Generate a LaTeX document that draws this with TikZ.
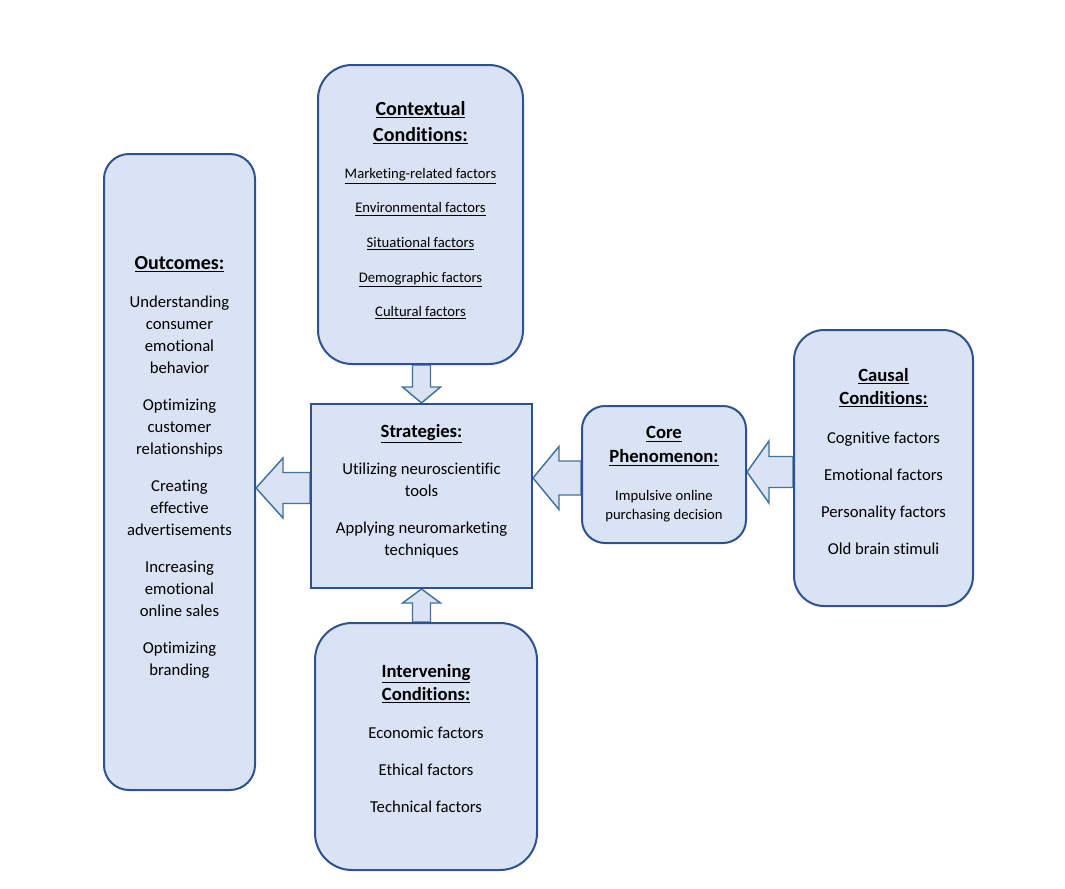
\documentclass[tikz,border=0pt]{standalone}
\usepackage{fontspec}
\setmainfont{Carlito}[Ligatures=NoCommon]
\usetikzlibrary{calc,backgrounds}

\definecolor{boxfill}{HTML}{DAE3F3}
\definecolor{boxline}{HTML}{2F528F}
\definecolor{arrowline}{HTML}{41719C}

\newcommand{\boxhead}[2][14]{{\fontsize{#1}{16.5}\selectfont\bfseries\underline{#2}}}
\newcommand{\smalltext}[1]{{\fontsize{11}{16.5}\selectfont #1}}
% extra depth below the last line, lifts the text in its box
\newcommand{\lift}[1]{\rule[-#1]{0pt}{#1}}

\begin{document}
\begin{tikzpicture}[x=0.75pt, y=-0.75pt,
  box/.style={draw=boxline, fill=boxfill, line width=1.5pt, align=center, inner sep=0pt,
    font=\fontsize{12.5}{16.5}\selectfont},
  roundbox/.style={box, rounded corners=#1},
  blockarrow/.style={draw=arrowline, fill=boxfill, line width=1.1pt}]
  \useasboundingbox (0,0) rectangle (1065,889);
  % boxes
  \node[roundbox=18.75pt, minimum width=113.25pt, minimum height=477pt] (out) at (179.5,472)
    {\boxhead[15]{Outcomes:}\\[12pt]
     Understanding\\consumer\\emotional\\behavior\\[11.25pt]
     Optimizing\\customer\\relationships\\[11.25pt]
     Creating\\effective\\advertisements\\[11.25pt]
     Increasing\\emotional\\online sales\\[11.25pt]
     Optimizing\\branding\lift{9pt}};
  \node[roundbox=25.5pt, minimum width=153.75pt, minimum height=224.25pt] (ctx) at (420.5,214.5)
    {\boxhead[15]{Contextual}\\[3pt]\boxhead[15]{Conditions:}\\[11.25pt]
     \smalltext{\underline{Marketing-related factors}}\\[9.4pt]
     \smalltext{\underline{Environmental factors}}\\[9.4pt]
     \smalltext{\underline{Situational factors}}\\[9.4pt]
     \smalltext{\underline{Demographic factors}}\\[9.4pt]
     \smalltext{\underline{Cultural factors}}\lift{8.25pt}};
  \node[box, minimum width=165.75pt, minimum height=138pt] (str) at (421.5,496)
    {\boxhead{Strategies:}\\[11.25pt]
     Utilizing neuroscientific\\tools\\[11.25pt]
     Applying neuromarketing\\techniques\lift{9pt}};
  \node[roundbox=17.25pt, minimum width=123pt, minimum height=102.75pt] (core) at (664,474.5)
    {\boxhead{Core}\\[1.5pt]\boxhead{Phenomenon:}\\[12pt]
     \smalltext{Impulsive online}\\[-2.25pt]\smalltext{purchasing decision}};
  \node[roundbox=22.5pt, minimum width=134.25pt, minimum height=207pt] (cau) at (883.5,468)
    {\boxhead{Causal}\\[0.75pt]\boxhead{Conditions:}\\[12.75pt]
     Cognitive factors\\[11.25pt]
     Emotional factors\\[11.25pt]
     Personality factors\\[11.25pt]
     Old brain stimuli\lift{10.5pt}};
  \node[roundbox=27.75pt, minimum width=166.5pt, minimum height=185.25pt] (int) at (426,746.5)
    {\boxhead{Intervening}\\[0.75pt]\boxhead{Conditions:}\\[12pt]
     Economic factors\\[11.25pt]
     Ethical factors\\[11.25pt]
     Technical factors\lift{12pt}};
  % block arrows
  \begin{scope}[on background layer]
    \coordinate (c1) at (ctx.south -| str.north);
    \draw[blockarrow] ($(c1)+(-9,0)$) -- ($(str.north)+(-9,-16)$) -- ($(str.north)+(-19,-16)$) -- (str.north)
      -- ($(str.north)+(19,-16)$) -- ($(str.north)+(9,-16)$) -- ($(c1)+(9,0)$) -- cycle;
    \coordinate (c2) at (int.north -| str.south);
    \draw[blockarrow] ($(c2)+(-9,0)$) -- ($(str.south)+(-9,14)$) -- ($(str.south)+(-19,14)$) -- (str.south)
      -- ($(str.south)+(19,14)$) -- ($(str.south)+(9,14)$) -- ($(c2)+(9,0)$) -- cycle;
    \coordinate (s1) at ($(str.west)+(0,-8)$);
    \coordinate (t1) at (out.east |- s1);
    \draw[blockarrow] ($(s1)+(0,-15.5)$) -- ($(t1)+(27,-15.5)$) -- ($(t1)+(27,-30)$) -- (t1)
      -- ($(t1)+(27,30)$) -- ($(t1)+(27,15.5)$) -- ($(s1)+(0,15.5)$) -- cycle;
    \coordinate (s2) at ($(core.west)+(0,3.5)$);
    \coordinate (t2) at (str.east |- s2);
    \draw[blockarrow] ($(s2)+(0,-17)$) -- ($(t2)+(26,-17)$) -- ($(t2)+(26,-31.5)$) -- (t2)
      -- ($(t2)+(26,31.5)$) -- ($(t2)+(26,17)$) -- ($(s2)+(0,17)$) -- cycle;
    \coordinate (s3) at ($(cau.west)+(0,4)$);
    \coordinate (t3) at (core.east |- s3);
    \draw[blockarrow] ($(s3)+(0,-15.5)$) -- ($(t3)+(22,-15.5)$) -- ($(t3)+(22,-31)$) -- (t3)
      -- ($(t3)+(22,31)$) -- ($(t3)+(22,15.5)$) -- ($(s3)+(0,15.5)$) -- cycle;
  \end{scope}
\end{tikzpicture}
\end{document}
